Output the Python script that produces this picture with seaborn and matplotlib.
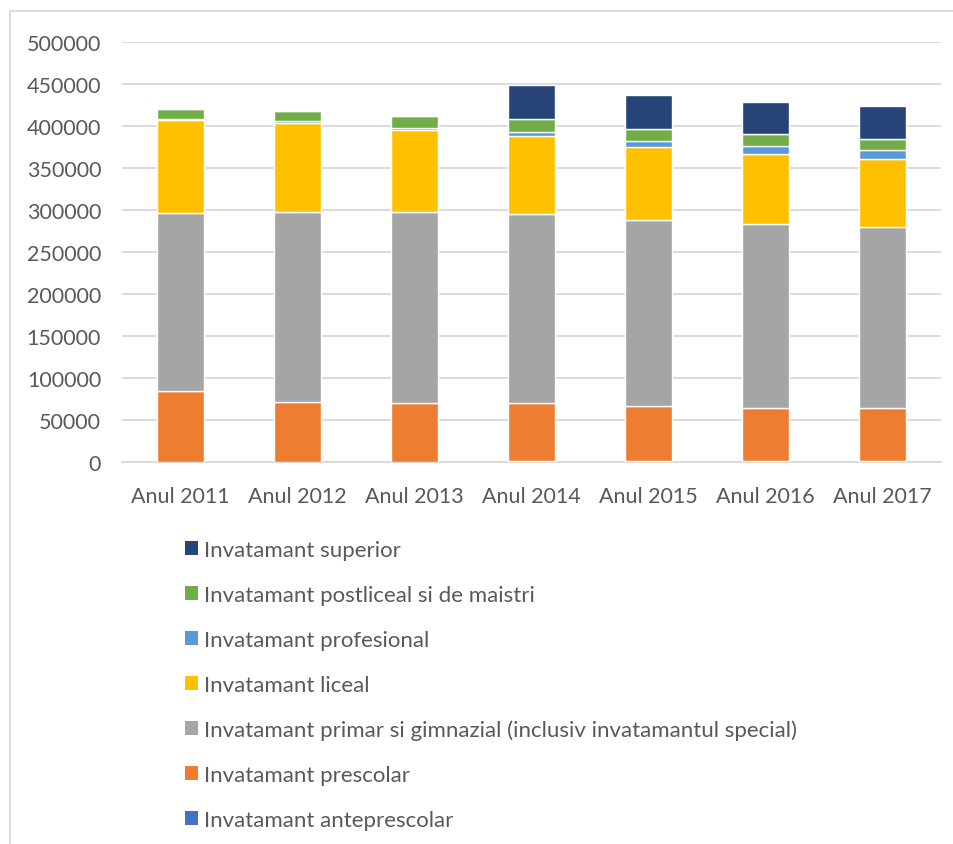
import matplotlib
matplotlib.use("Agg")
import matplotlib.pyplot as plt
import seaborn as sns
import pandas as pd
from matplotlib.patches import Patch, Rectangle

# date
ani = ["Anul 2011", "Anul 2012", "Anul 2013", "Anul 2014", "Anul 2015", "Anul 2016", "Anul 2017"]
anteprescolar = [0, 0, 0, 1000, 1000, 1000, 1000]
prescolar = [84100, 71800, 70600, 69200, 65300, 63600, 62900]
primar = [211900, 226100, 226500, 224900, 221700, 219000, 215400]
liceal = [111500, 105100, 98000, 92500, 86900, 83300, 81600]
profesional = [1000, 2400, 2400, 5500, 7100, 9500, 10700]
postliceal = [11200, 12600, 13900, 15100, 14600, 13900, 13100]
superior = [0, 0, 0, 40400, 40500, 38500, 38600]

serii = [
    ("Invatamant anteprescolar", anteprescolar, "#4472C4"),
    ("Invatamant prescolar", prescolar, "#ED7D31"),
    ("Invatamant primar si gimnazial (inclusiv invatamantul special)", primar, "#A5A5A5"),
    ("Invatamant liceal", liceal, "#FFC000"),
    ("Invatamant profesional", profesional, "#5B9BD5"),
    ("Invatamant postliceal si de maistri", postliceal, "#70AD47"),
    ("Invatamant superior", superior, "#264478"),
]

sns.set_style("white")
plt.rcParams["font.family"] = ["Lato", "DejaVu Sans"]
text_color = "#595959"

fig = plt.figure(figsize=(9.54, 8.45), dpi=100)
ax = fig.add_axes([122 / 954, 1 - 463 / 845, 819 / 954, 420 / 845])

# bare stivuite
bottom = [0] * len(ani)
for nume, vals, culoare in serii:
    df = pd.DataFrame({"an": ani, "val": vals})
    sns.barplot(data=df, x="an", y="val", color=culoare, width=0.4,
                bottom=bottom, ax=ax, saturation=1, zorder=3)
    bottom = [b + v for b, v in zip(bottom, vals)]

ax.set_ylim(0, 500000)
ax.set_xlim(-0.5, len(ani) - 0.5)
ax.set_yticks(range(0, 500001, 50000))
ax.yaxis.grid(True, color="#D9D9D9", linewidth=1.3, zorder=0)
ax.set_axisbelow(True)
for s in ["top", "right", "left"]:
    ax.spines[s].set_visible(False)
ax.spines["bottom"].set_color("#D9D9D9")
ax.spines["bottom"].set_linewidth(1.3)
ax.tick_params(axis="both", length=0, labelsize=15.5, colors=text_color)
ax.tick_params(axis="y", pad=15)
ax.tick_params(axis="x", pad=17)
ax.set_xlabel("")
ax.set_ylabel("")

# legenda verticala sub grafic, in ordine inversa
handles = [Patch(facecolor=c, edgecolor="none", label=n) for n, v, c in serii[::-1]]
fig.legend(handles=handles, loc="upper left", bbox_to_anchor=(165 / 954, 1 - 521 / 845),
           frameon=False, ncol=1, fontsize=16, labelcolor=text_color,
           handlelength=0.6, handleheight=0.6, handletextpad=0.27, labelspacing=1.12)

# chenarul graficului
fig.patches.append(Rectangle((10 / 954, -0.01), 1.0, 1 - 12 / 845 + 0.01, transform=fig.transFigure,
                             fill=False, edgecolor="#D9D9D9", linewidth=1.3))

fig.savefig("out.png", dpi=100)
